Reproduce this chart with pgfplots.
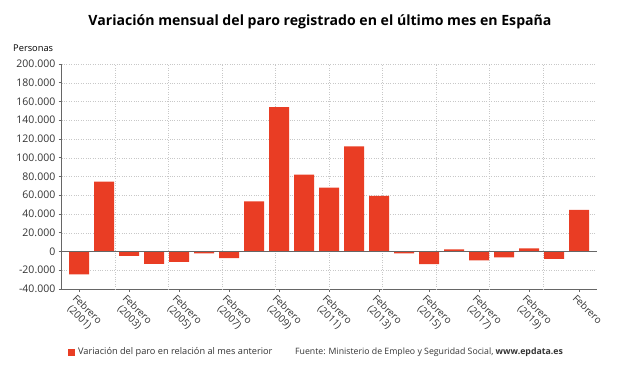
\documentclass[border=0pt]{standalone}
\usepackage{pgfplots}
\pgfplotsset{compat=1.18}
\usepackage{fontspec}
\setmainfont{Open Sans}
\definecolor{barred}{HTML}{E93D24}
\definecolor{gridc}{HTML}{C8C8C8}
\definecolor{axc}{HTML}{666666}
\definecolor{txt}{HTML}{333333}
\begin{document}
\begin{tikzpicture}[x=1pt,y=1pt]
\path (0,0) rectangle (640,376);
\node[font=\fontsize{14.1}{16}\selectfont\bfseries, text=black] at (320,354) {Variación mensual del paro registrado en el último mes en España};
\node[font=\fontsize{9.3}{10}\selectfont, text=black, anchor=west, inner sep=0pt] at (13,328) {Personas};
\begin{axis}[at={(61.5pt,87pt)}, anchor=south west, scale only axis,
  width=535pt, height=225pt,
  xmin=-0.7, xmax=20.7, ymin=-40000, ymax=200000,
  scaled y ticks=false,
  axis lines*=left,
  axis line style={axc, line width=0.8pt},
  ytick={-40000,-20000,0,20000,40000,60000,80000,100000,120000,140000,160000,180000,200000},
  yticklabels={-40.000,-20.000,0,20.000,40.000,60.000,80.000,100.000,120.000,140.000,160.000,180.000,200.000},
  xtick={0,2,4,6,8,10,12,14,16,18,20},
  xticklabels={{Febrero\\(2001)},{Febrero\\(2003)},{Febrero\\(2005)},{Febrero\\(2007)},{Febrero\\(2009)},{Febrero\\(2011)},{Febrero\\(2013)},{Febrero\\(2015)},{Febrero\\(2017)},{Febrero\\(2019)},{Febrero}},
  x tick label style={rotate=-45, anchor=north west, align=center, font=\fontsize{10}{11}\selectfont, text=txt, inner sep=1pt, xshift=-1pt, yshift=-1pt},
  y tick label style={font=\fontsize{10.5}{12}\selectfont, text=txt, inner sep=1pt, xshift=-2pt},
  tick align=outside,
  major tick length=3pt,
  tick style={axc, line width=0.6pt},
  ymajorgrids,
  major grid style={gridc, dotted, line width=0.5pt},
  extra x ticks={1.44,3.58,5.72,7.86,10.0,12.14,14.28,16.42,18.56},
  extra x tick labels={},
  extra x tick style={grid=major, major tick length=0pt},
  clip=false,
]
\addplot[ybar, bar width=0.8, fill=barred, draw=none, bar shift=0pt] coordinates {
(0,-24300) (1,74600) (2,-4600) (3,-13200) (4,-11100) (5,-2100) (6,-7045)
(7,53422) (8,154058) (9,82132) (10,68260) (11,112269) (12,59444) (13,-1949)
(14,-13538) (15,2231) (16,-9359) (17,-6280) (18,3279) (19,-7806) (20,44436)
};
\addplot[axc, line width=0.9pt, no marks, sharp plot] coordinates {(-0.7,0) (20.7,0)};
\end{axis}
\fill[barred] (68,20) rectangle (75,27);
\node[font=\fontsize{9.2}{10}\selectfont, text=txt, anchor=west, inner sep=0pt] at (78,23.5) {Variación del paro en relación al mes anterior};
\node[font=\fontsize{8.75}{10}\selectfont, text=txt, anchor=west, inner sep=0pt] at (295,23.5) {Fuente: Ministerio de Empleo y Seguridad Social, \textbf{www.epdata.es}};
\end{tikzpicture}
\end{document}
